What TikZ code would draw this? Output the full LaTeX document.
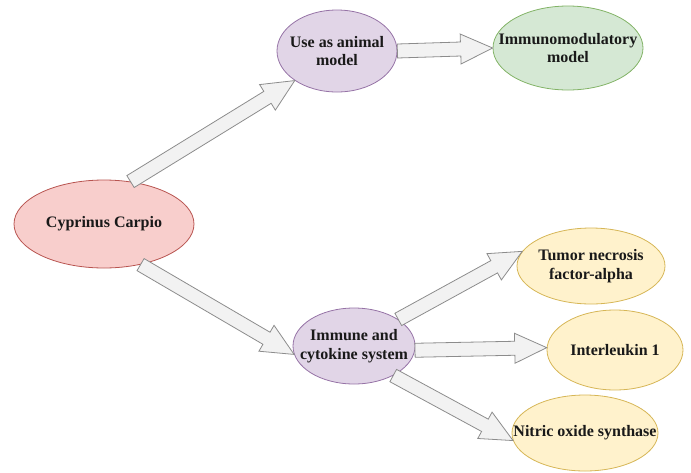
\documentclass[tikz,border=0pt]{standalone}
\usepackage{fontspec}
\setmainfont{Liberation Serif}
\usetikzlibrary{shapes.geometric,calc}
\definecolor{pinkF}{HTML}{F8CECC}\definecolor{pinkD}{HTML}{B85450}
\definecolor{purF}{HTML}{E1D5E7}\definecolor{purD}{HTML}{9673A6}
\definecolor{grnF}{HTML}{D5E8D4}\definecolor{grnD}{HTML}{82B366}
\definecolor{yelF}{HTML}{FFF2CC}\definecolor{yelD}{HTML}{D6B656}
\definecolor{arrF}{HTML}{F2F2F2}\definecolor{arrD}{HTML}{8C8C8C}
\newcommand\blockarrow[2]{%
  \draw[arrowbox]
    ($(#1)!7pt!90:(#2)$) --
    ($($(#2)!32pt!(#1)$)!7pt!90:(#2)$) --
    ($($(#2)!32pt!(#1)$)!15pt!90:(#2)$) --
    (#2) --
    ($($(#2)!32pt!(#1)$)!15pt!-90:(#2)$) --
    ($($(#2)!32pt!(#1)$)!7pt!-90:(#2)$) --
    ($(#1)!7pt!-90:(#2)$) -- cycle;}
\begin{document}
\begin{tikzpicture}[x=1pt,y=-1pt,
  bubble/.style={ellipse,draw,line width=0.8pt,inner sep=0pt},
  txt/.style={inner sep=0pt,align=center,
    font=\fontsize{16}{18.5}\selectfont\bfseries,text=black!90},
  pinkb/.style={bubble,fill=pinkF,draw=pinkD},
  purb/.style={bubble,fill=purF,draw=purD},
  grnb/.style={bubble,fill=grnF,draw=grnD},
  yelb/.style={bubble,fill=yelF,draw=yelD},
  arrowbox/.style={fill=arrF,draw=arrD,line width=0.8pt,line join=miter}]
\useasboundingbox (0,0) rectangle (691,472);
\node[pinkb,minimum width=180,minimum height=88] (cc) at (104,224) {};
\node[purb,minimum width=120,minimum height=82] (use) at (337,51) {};
\node[grnb,minimum width=150,minimum height=84] (imm) at (568,48) {};
\node[purb,minimum width=122,minimum height=76] (ics) at (354,346) {};
\node[yelb,minimum width=148,minimum height=76] (tnf) at (591,266) {};
\node[yelb,minimum width=136,minimum height=80] (il) at (615,350) {};
\node[yelb,minimum width=146,minimum height=76] (nos) at (585,433) {};
\node[txt] (ccT) at (cc) {Cyprinus Carpio};
\node[txt] (useT) at (use) {Use as animal\\model};
\node[txt] (immT) at (imm) {Immunomodulatory\\model};
\node[txt] (icsT) at (ics) {Immune and\\cytokine system};
\node[txt] (tnfT) at (tnf) {Tumor necrosis\\factor-alpha};
\node[txt] (ilT) at (il) {Interleukin 1};
\node[txt] (nosT) at (nos) {Nitric oxide synthase};
\blockarrow{cc.58}{use.-145}
\blockarrow{cc.-48}{ics.-172}
\blockarrow{use.east}{imm.west}
\blockarrow{ics.31}{tnf.168}
\blockarrow{ics.-4}{il.178}
\blockarrow{ics.-37}{nos.-174}
\end{tikzpicture}
\end{document}
